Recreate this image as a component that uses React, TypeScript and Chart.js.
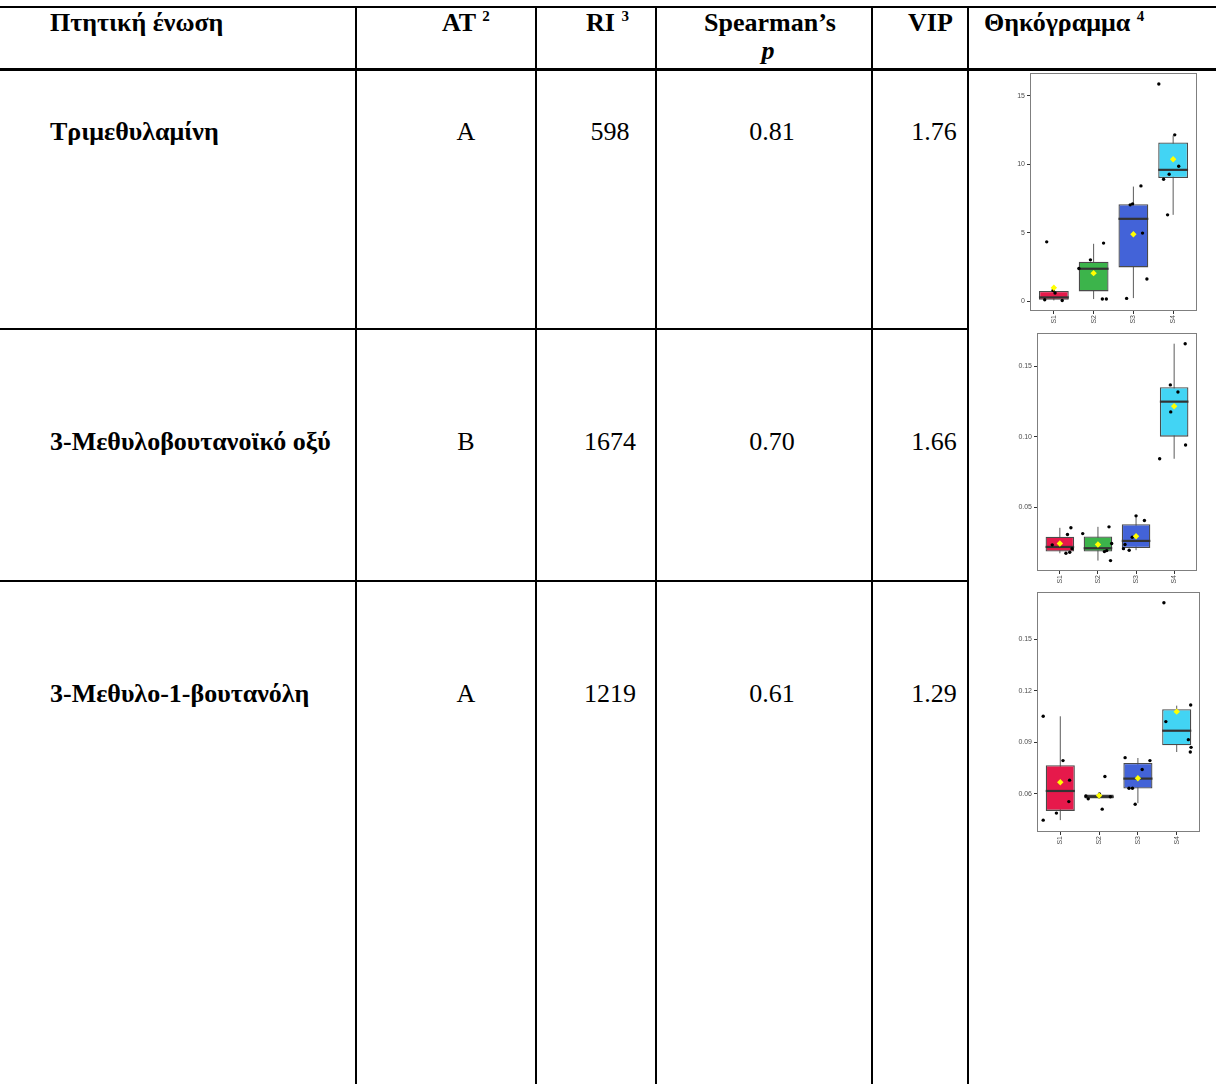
import React, { useEffect, useRef } from "react";
import { Chart, registerables } from "chart.js";

Chart.register(...registerables);

// ---------- Table content ----------
const compounds = ["Τριμεθυλαμίνη", "3-Μεθυλοβουτανοϊκό οξύ", "3-Μεθυλο-1-βουτανόλη"];
const atValues = ["A", "B", "A"];
const riValues = ["598", "1674", "1219"];
const spearmanValues = ["0.81", "0.70", "0.61"];
const vipValues = ["1.76", "1.66", "1.29"];

// ---------- Boxplot content ----------
const groups = ["S1", "S2", "S3", "S4"];
const groupColors = ["#e6194b", "#3cb44b", "#4363d8", "#42d4f4"];

// Chart 1: Τριμεθυλαμίνη
const tmaQ1 = [0.12, 0.73, 2.48, 9.0];
const tmaMedian = [0.29, 2.38, 6.02, 9.59];
const tmaQ3 = [0.76, 2.89, 7.09, 11.58];
const tmaWhiskerLow = [0.07, 0.17, 0.24, 6.31];
const tmaWhiskerHigh = [0.8, 4.2, 8.37, 12.09];
const tmaMean = [1.0, 2.06, 4.9, 10.36];
const tmaPoints = [
  [4.34, 0.8, 0.61, 0.12, 0.07],
  [2.4, 3.03, 4.25, 0.17, 0.17],
  [7.04, 7.11, 8.42, 4.98, 1.63, 0.22],
  [15.85, 12.14, 9.85, 9.27, 8.9, 6.31],
];
const tmaJitter = [
  [-0.18, -0.02, 0.03, -0.23, 0.21],
  [-0.37, -0.08, 0.25, 0.22, 0.32],
  [-0.08, -0.02, 0.19, 0.23, 0.34, -0.17],
  [-0.36, 0.04, 0.14, -0.1, -0.24, -0.14],
];
const tmaYTicks = [0, 5, 10, 15];
const tmaYTickLabels = ["0", "5", "10", "15"];
const tmaYRange = [-0.7, 16.65];

// Chart 2: 3-Μεθυλοβουτανοϊκό οξύ
const mbaQ1 = [0.0184, 0.0184, 0.021, 0.1001];
const mbaMedian = [0.0217, 0.0208, 0.026, 0.125];
const mbaQ3 = [0.0289, 0.0291, 0.0379, 0.1353];
const mbaWhiskerLow = [0.0172, 0.012, 0.0194, 0.0844];
const mbaWhiskerHigh = [0.0353, 0.036, 0.0438, 0.1662];
const mbaMean = [0.0241, 0.0234, 0.0293, 0.1217];
const mbaPoints = [
  [0.0232, 0.0305, 0.0353, 0.0205, 0.0179, 0.0172],
  [0.0312, 0.036, 0.0241, 0.0191, 0.0184, 0.012],
  [0.0438, 0.0405, 0.0286, 0.0234, 0.0205, 0.0194],
  [0.1662, 0.1369, 0.1319, 0.1177, 0.0942, 0.0844],
];
const mbaJitter = [
  [-0.2, 0.2, 0.29, 0.32, 0.26, 0.16],
  [-0.4, 0.29, 0.36, 0.23, 0.17, 0.33],
  [0.0, 0.22, -0.1, -0.29, -0.33, -0.18],
  [0.29, -0.1, 0.1, -0.09, 0.3, -0.38],
];
const mbaYTicks = [0.05, 0.1, 0.15];
const mbaYTickLabels = ["0.05", "0.10", "0.15"];
const mbaYRange = [0.0046, 0.1738];

// Chart 3: 3-Μεθυλο-1-βουτανόλη
const mbolQ1 = [0.0501, 0.0573, 0.0631, 0.0883];
const mbolMedian = [0.0617, 0.0583, 0.0689, 0.0968];
const mbolQ3 = [0.0767, 0.0596, 0.078, 0.1093];
const mbolWhiskerLow = [0.0447, 0.0571, 0.0546, 0.0844];
const mbolWhiskerHigh = [0.1052, 0.06, 0.0809, 0.1114];
const mbolMean = [0.0668, 0.059, 0.0691, 0.1079];
const mbolPoints = [
  [0.1052, 0.0794, 0.068, 0.0555, 0.0488, 0.0447],
  [0.0701, 0.06, 0.0588, 0.0571, 0.0583, 0.0511],
  [0.0811, 0.0794, 0.0742, 0.0633, 0.0633, 0.054],
  [0.1713, 0.1118, 0.1021, 0.0916, 0.0871, 0.0844],
];
const mbolJitter = [
  [-0.44, 0.07, 0.24, 0.22, -0.1, -0.44],
  [0.15, 0.01, -0.34, -0.28, 0.29, 0.08],
  [-0.33, 0.31, 0.11, -0.23, -0.14, -0.07],
  [-0.33, 0.36, -0.28, 0.3, 0.37, 0.35],
];
const mbolYTicks = [0.06, 0.09, 0.12, 0.15];
const mbolYTickLabels = ["0.06", "0.09", "0.12", "0.15"];
const mbolYRange = [0.0378, 0.1776];

type BoxSpec = {
  q1: number[];
  median: number[];
  q3: number[];
  wLow: number[];
  wHigh: number[];
  mean: number[];
  points: number[][];
  jitter: number[][];
  yTicks: number[];
  yTickLabels: string[];
  yRange: number[];
};

const charts: BoxSpec[] = [
  { q1: tmaQ1, median: tmaMedian, q3: tmaQ3, wLow: tmaWhiskerLow, wHigh: tmaWhiskerHigh, mean: tmaMean, points: tmaPoints, jitter: tmaJitter, yTicks: tmaYTicks, yTickLabels: tmaYTickLabels, yRange: tmaYRange },
  { q1: mbaQ1, median: mbaMedian, q3: mbaQ3, wLow: mbaWhiskerLow, wHigh: mbaWhiskerHigh, mean: mbaMean, points: mbaPoints, jitter: mbaJitter, yTicks: mbaYTicks, yTickLabels: mbaYTickLabels, yRange: mbaYRange },
  { q1: mbolQ1, median: mbolMedian, q3: mbolQ3, wLow: mbolWhiskerLow, wHigh: mbolWhiskerHigh, mean: mbolMean, points: mbolPoints, jitter: mbolJitter, yTicks: mbolYTicks, yTickLabels: mbolYTickLabels, yRange: mbolYRange },
];

// plot-area placement of each chart on the page
const chartAreas = [
  { left: 1030, top: 73, right: 1197, bottom: 311 },
  { left: 1037, top: 333, right: 1197, bottom: 571 },
  { left: 1037, top: 592, right: 1200, bottom: 832 },
];

const Y_AXIS_W = 50;
const X_AXIS_H = 20;
const PAD_T = 4;
const PAD_R = 6;
const BOX_W = 0.75;

const framePlugin = {
  id: "panelFrame",
  beforeDatasetsDraw(chart: any) {
    const { ctx, chartArea } = chart;
    ctx.save();
    ctx.strokeStyle = "#7f7f7f";
    ctx.lineWidth = 1;
    ctx.strokeRect(
      Math.round(chartArea.left) + 0.5,
      Math.round(chartArea.top) + 0.5,
      Math.round(chartArea.right - chartArea.left) - 1,
      Math.round(chartArea.bottom - chartArea.top) - 1
    );
    ctx.restore();
  },
};

function BoxPlot({ spec, area }: { spec: BoxSpec; area: { left: number; top: number; right: number; bottom: number } }) {
  const ref = useRef<HTMLCanvasElement>(null);
  const cLeft = area.left - Y_AXIS_W;
  const cTop = area.top - PAD_T;
  const cW = area.right + PAD_R - cLeft;
  const cH = area.bottom + X_AXIS_H - cTop;

  useEffect(() => {
    if (!ref.current) return;
    const datasets: any[] = [];
    // whiskers
    groups.forEach((_, i) => {
      datasets.push({
        type: "scatter",
        data: [
          { x: i + 1, y: spec.wLow[i] },
          { x: i + 1, y: spec.wHigh[i] },
        ],
        showLine: true,
        borderColor: "#5a5a5a",
        borderWidth: 1,
        pointRadius: 0,
        order: 10,
      });
    });
    // boxes
    datasets.push({
      type: "bar",
      data: groups.map((_, i) => ({ x: i + 1, y: [spec.q1[i], spec.q3[i]] })),
      backgroundColor: groupColors,
      borderColor: "#4a4a4a",
      borderWidth: 1.3,
      borderSkipped: false,
      barPercentage: BOX_W,
      categoryPercentage: 1,
      order: 9,
    });
    // medians
    groups.forEach((_, i) => {
      datasets.push({
        type: "scatter",
        data: [
          { x: i + 1 - BOX_W / 2, y: spec.median[i] },
          { x: i + 1 + BOX_W / 2, y: spec.median[i] },
        ],
        showLine: true,
        borderColor: "#333333",
        borderWidth: 2.2,
        pointRadius: 0,
        order: 8,
      });
    });
    // jittered observations
    datasets.push({
      type: "scatter",
      data: spec.points.flatMap((vals, i) => vals.map((v, j) => ({ x: i + 1 + spec.jitter[i][j], y: v }))),
      backgroundColor: "#000000",
      borderWidth: 0,
      pointRadius: 1.7,
      order: 7,
    });
    // means
    datasets.push({
      type: "scatter",
      data: spec.mean.map((v, i) => ({ x: i + 1, y: v })),
      backgroundColor: "#ffff00",
      borderWidth: 0,
      pointStyle: "rectRot",
      pointRadius: 3.2,
      order: 6,
    });

    const tickFont = { family: '"Liberation Sans", Arial, sans-serif', size: 7 };
    const chart = new Chart(ref.current, {
      type: "bar",
      data: { datasets },
      options: {
        animation: false,
        responsive: false,
        devicePixelRatio: 1,
        layout: { padding: { left: 0, top: PAD_T, right: PAD_R, bottom: 0 } },
        plugins: { legend: { display: false }, tooltip: { enabled: false } },
        scales: {
          x: {
            type: "linear",
            min: 0.4,
            max: 4.6,
            offset: false,
            afterBuildTicks: (s: any) => {
              s.ticks = groups.map((_, i) => ({ value: i + 1 }));
            },
            afterFit: (s: any) => {
              s.height = X_AXIS_H;
              s.paddingLeft = 0;
              s.paddingRight = 0;
            },
            ticks: {
              autoSkip: false,
              minRotation: 90,
              maxRotation: 90,
              padding: 1,
              color: "#4d4d4d",
              font: tickFont,
              callback: (v: any) => groups[Math.round(Number(v)) - 1],
            },
            grid: { drawOnChartArea: false, drawTicks: true, tickLength: 3, color: "#333333", offset: false },
            border: { display: false },
          },
          y: {
            type: "linear",
            min: spec.yRange[0],
            max: spec.yRange[1],
            afterBuildTicks: (s: any) => {
              s.ticks = spec.yTicks.map((v) => ({ value: v }));
            },
            afterFit: (s: any) => {
              s.width = Y_AXIS_W;
              s.paddingTop = 0;
              s.paddingBottom = 0;
            },
            ticks: {
              autoSkip: false,
              padding: 2,
              color: "#4d4d4d",
              font: tickFont,
              callback: (_v: any, idx: number) => spec.yTickLabels[idx],
            },
            grid: { drawOnChartArea: false, drawTicks: true, tickLength: 3, color: "#333333" },
            border: { display: false },
          },
        },
      } as any,
      plugins: [framePlugin],
    });
    return () => chart.destroy();
  }, [spec]);

  return (
    <canvas
      ref={ref}
      width={cW}
      height={cH}
      style={{ position: "absolute", left: cLeft, top: cTop, width: cW, height: cH }}
    />
  );
}

const SERIF = '"Liberation Serif", "Times New Roman", serif';
const FS = 26;

function Txt({
  x,
  y,
  size = FS,
  bold = false,
  italic = false,
  center = false,
  children,
}: {
  x: number;
  y: number;
  size?: number;
  bold?: boolean;
  italic?: boolean;
  center?: boolean;
  children: React.ReactNode;
}) {
  return (
    <div
      style={{
        position: "absolute",
        left: x,
        top: y - size * 0.8375,
        fontFamily: SERIF,
        fontSize: size,
        lineHeight: `${size}px`,
        fontWeight: bold ? 700 : 400,
        fontStyle: italic ? "italic" : "normal",
        whiteSpace: "nowrap",
        color: "#000",
        transform: center ? "translateX(-50%)" : undefined,
      }}
    >
      {children}
    </div>
  );
}

function Sup({ children }: { children: React.ReactNode }) {
  return <span style={{ fontSize: 15, position: "relative", top: -10 }}>{children}</span>;
}

const rowBaselines = [141, 451, 703];

export default function App() {
  const line = (x: number, y: number, w: number, h: number, key: string) => (
    <div key={key} style={{ position: "absolute", left: x, top: y, width: w, height: h, background: "#000" }} />
  );
  return (
    <div style={{ position: "absolute", left: 0, top: 0, width: 1216, height: 1084, background: "#fff", overflow: "hidden" }}>
      {/* horizontal rules */}
      {line(0, 6, 1216, 2, "h0")}
      {line(0, 67.5, 1216, 3, "h1")}
      {line(0, 328, 968, 2, "h2")}
      {line(0, 580, 968, 2, "h3")}
      {/* vertical rules */}
      {[355, 535, 655, 871, 967].map((x, i) => line(x, 6, 2, 1078, "v" + i))}

      {/* header */}
      <Txt x={50} y={32} bold>Πτητική ένωση</Txt>
      <Txt x={442} y={32} bold>AT <Sup>2</Sup></Txt>
      <Txt x={586} y={32} bold>RI <Sup>3</Sup></Txt>
      <Txt x={770} y={32} bold center>Spearman’s</Txt>
      <Txt x={768} y={60} bold italic center>p</Txt>
      <Txt x={908} y={32} bold>VIP</Txt>
      <Txt x={984} y={32} bold>Θηκόγραμμα <Sup>4</Sup></Txt>

      {/* rows */}
      {compounds.map((c, i) => (
        <React.Fragment key={c}>
          <Txt x={50} y={rowBaselines[i]} bold>{c}</Txt>
          <Txt x={466} y={rowBaselines[i]} center>{atValues[i]}</Txt>
          <Txt x={610} y={rowBaselines[i]} center>{riValues[i]}</Txt>
          <Txt x={772} y={rowBaselines[i]} center>{spearmanValues[i]}</Txt>
          <Txt x={934} y={rowBaselines[i]} center>{vipValues[i]}</Txt>
        </React.Fragment>
      ))}

      {/* boxplots */}
      {charts.map((spec, i) => (
        <BoxPlot key={i} spec={spec} area={chartAreas[i]} />
      ))}
    </div>
  );
}
